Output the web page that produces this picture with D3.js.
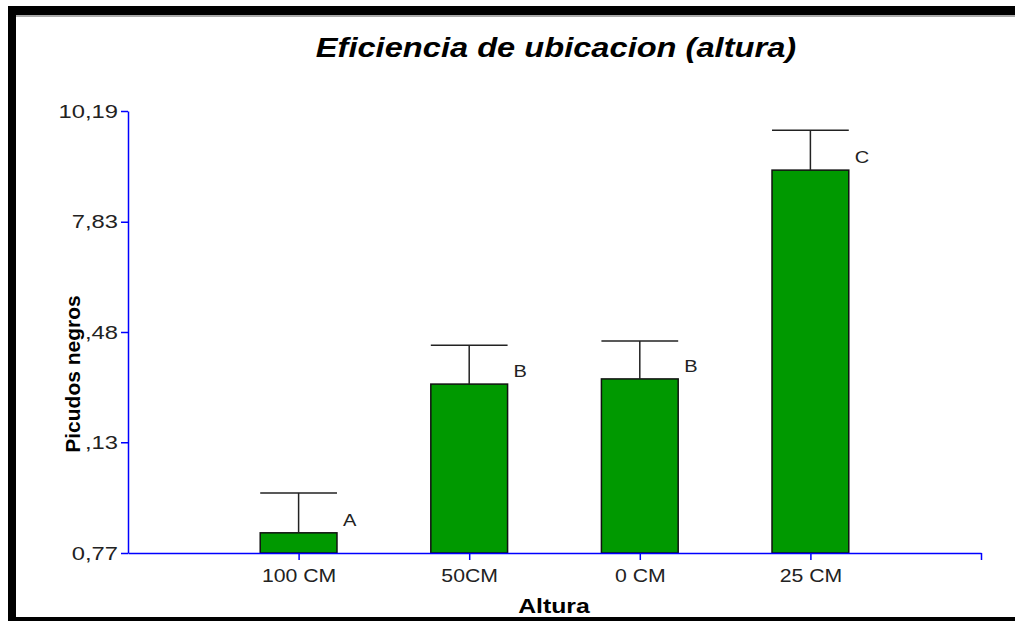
<!DOCTYPE html>
<html>
<head>
<meta charset="utf-8">
<script src="https://cdn.jsdelivr.net/npm/d3@7"></script>
<style>
  body { margin: 0; background: #fff; }
  text { font-family: "Liberation Sans", Arial, sans-serif; }
</style>
</head>
<body>
<div class="container"></div>
<script>
const WIDTH = 1015;
const HEIGHT = 621;

const categories = ["100 CM", "50CM", "0 CM", "25 CM"];
const means = [1.20, 4.37, 4.48, 8.93];
const errors = [0.85, 0.83, 0.81, 0.85];
const letters = ["A", "B", "B", "C"];
const yTicks = [0.77, 3.13, 5.48, 7.83, 10.19];
const yTickLabels = ["0,77", "3,13", "5,48", "7,83", "10,19"];

const AXIS_LEFT = 128;
const AXIS_RIGHT = 981;
const AXIS_TOP = 111;
const AXIS_BOTTOM = 553;

var xScale = d3.scaleLinear()
    .domain([0, categories.length + 1])
    .range([AXIS_LEFT, AXIS_RIGHT]);

var yScale = d3.scaleLinear()
    .domain([yTicks[0], yTicks[yTicks.length - 1]])
    .range([AXIS_BOTTOM, AXIS_TOP]);

var translate = function(x, y){
    return "translate(" + x + "," + y + ")";
};

// the source picture is drawn a bit wide, so stretch horizontal texts
var widen = function(sel, k){
    sel.each(function(){
        var len = this.getComputedTextLength();
        d3.select(this).attr('textLength', len * k).attr('lengthAdjust', 'spacingAndGlyphs');
    });
};

var svg = d3.select('.container').append('svg')
    .attr('width', WIDTH)
    .attr('height', HEIGHT);

// frame
svg.append('rect').attr('x', 8).attr('y', 6).attr('width', WIDTH - 8).attr('height', 9).attr('fill', '#000');
svg.append('rect').attr('x', 8).attr('y', 15).attr('width', WIDTH - 8).attr('height', 2).attr('fill', '#aaa');
svg.append('rect').attr('x', 8).attr('y', 6).attr('width', 8).attr('height', HEIGHT - 6).attr('fill', '#000');
svg.append('rect').attr('x', 8).attr('y', 617).attr('width', WIDTH - 8).attr('height', 4).attr('fill', '#000');

// title
svg.append('text')
    .attr('x', 556).attr('y', 57)
    .attr('text-anchor', 'middle')
    .style('font-size', '28px').style('font-weight', 'bold').style('font-style', 'italic')
    .text('Eficiencia de ubicacion (altura)')
    .call(widen, 1.165);

var barWidth = (xScale(1) - xScale(0)) * 0.45;

// bars
svg.append('g').selectAll('rect')
    .data(means)
    .enter().append('rect')
    .attr('x', function(d, i){ return xScale(i + 1) - barWidth / 2; })
    .attr('y', function(d){ return yScale(d); })
    .attr('width', barWidth)
    .attr('height', function(d){ return AXIS_BOTTOM - yScale(d); })
    .attr('fill', '#009900')
    .attr('stroke', '#111')
    .attr('stroke-width', 1.5);

// error bars
var err = svg.append('g').attr('stroke', '#222').attr('stroke-width', 1.5);
means.forEach(function(m, i){
    var cx = xScale(i + 1);
    err.append('line').attr('x1', cx).attr('x2', cx)
        .attr('y1', yScale(m)).attr('y2', yScale(m + errors[i]));
    err.append('line').attr('x1', cx - barWidth / 2).attr('x2', cx + barWidth / 2)
        .attr('y1', yScale(m + errors[i])).attr('y2', yScale(m + errors[i]));
});

// letters
svg.append('g').selectAll('text')
    .data(letters)
    .enter().append('text')
    .attr('x', function(d, i){ return xScale(i + 1) + barWidth / 2 + 6; })
    .attr('y', function(d, i){ return yScale(means[i]) - 7; })
    .style('font-size', '17px').attr('fill', '#222')
    .text(function(d){ return d; })
    .call(widen, 1.18);

// y axis
var yAxis = d3.axisLeft(yScale)
    .tickValues(yTicks)
    .tickFormat(function(d, i){ return yTickLabels[i]; })
    .tickSizeInner(7).tickSizeOuter(0).tickPadding(3);

var gy = svg.append('g').attr('transform', translate(AXIS_LEFT, 0)).call(yAxis);
gy.selectAll('line, path').attr('stroke', '#0000ff').attr('stroke-width', 1.5);
gy.selectAll('text').style('font-size', '19px').attr('fill', '#222')
    .style('font-family', '"Liberation Sans", Arial, sans-serif')
    .call(widen, 1.25);

// x axis
var xAxis = d3.axisBottom(xScale)
    .tickValues([1, 2, 3, 4, 5])
    .tickFormat(function(d){ return categories[d - 1] || ''; })
    .tickSizeInner(7).tickSizeOuter(0).tickPadding(9);

var gx = svg.append('g').attr('transform', translate(0, AXIS_BOTTOM)).call(xAxis);
gx.selectAll('line, path').attr('stroke', '#0000ff').attr('stroke-width', 1.5);
gx.selectAll('text').style('font-size', '18px').attr('fill', '#222')
    .style('font-family', '"Liberation Sans", Arial, sans-serif')
    .filter(function(d){ return d <= categories.length; })
    .call(widen, 1.18);

// axis titles
svg.append('text')
    .attr('x', 554).attr('y', 613)
    .attr('text-anchor', 'middle')
    .style('font-size', '21px').style('font-weight', 'bold')
    .text('Altura')
    .call(widen, 1.18);

// y title sits on a white box that hides part of the tick labels, as in the source
var yTitle = svg.append('g').attr('transform', translate(80, 374) + ' rotate(-90)');
yTitle.append('rect')
    .attr('x', -86).attr('y', -18).attr('width', 172).attr('height', 23)
    .attr('fill', '#fff');
yTitle.append('text')
    .attr('text-anchor', 'middle')
    .style('font-size', '21px').style('font-weight', 'bold')
    .text('Picudos negros');
</script>
</body>
</html>
